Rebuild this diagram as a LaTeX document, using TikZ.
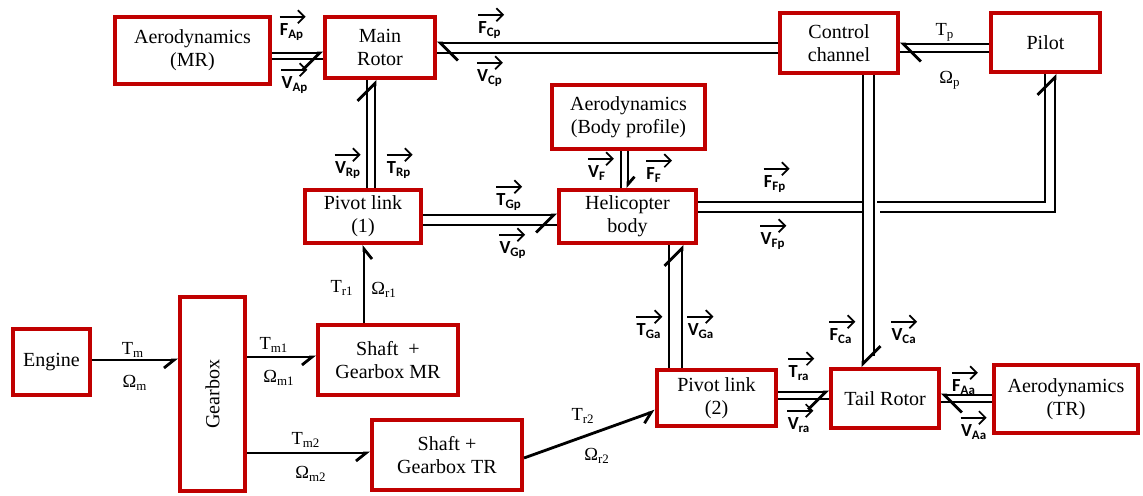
\documentclass[tikz,border=0pt]{standalone}
\usepackage{fontspec}
\setmainfont{Liberation Serif}
\newfontfamily\vecfont{Carlito}
\usetikzlibrary{arrows.meta}
\definecolor{boxred}{HTML}{C00000}

% vector label: name, position, letter, subscript
\newcommand{\vlab}[4]{%
  \node[vtext] (#1) at (#2) {#3\textsubscript{#4}};
  \draw[vec] ([yshift=1.3mm]#1.north west) -- ++(5.2mm,0);}

\tikzset{
  blk/.style={draw=boxred, line width=2.3pt, fill=white, align=center, inner sep=1pt,
    font=\fontsize{11.4}{13}\selectfont},
  link/.style={line width=1.6pt},
  dtip/.style={-{Straight Barb[harpoon, length=3.5mm, width=7mm]}},
  dtips/.style={-{Straight Barb[harpoon, swap, length=3.5mm, width=7mm]}},
  btip/.style={-{Straight Barb[harpoon, length=1.5mm, width=2.6mm]}},
  stips/.style={-{Straight Barb[harpoon, swap, length=2mm, width=3.2mm]}},
  vtext/.style={font=\vecfont\fontsize{10.5}{12}\selectfont\bfseries, inner sep=0pt},
  vec/.style={line width=1pt, -{Straight Barb[length=1.3mm, width=2.6mm]}},
  lab/.style={font=\fontsize{10.5}{12}\selectfont, inner sep=0pt}
}

\begin{document}
\begin{tikzpicture}[x=0.2mm, y=-0.2mm]
  \useasboundingbox (0,0) rectangle (1143,496);

  % Blocks
  \node[blk, minimum width=31mm, minimum height=13.4mm] (aeroMR) at (192.5,50.5) {Aerodynamics\\(MR)};
  \node[blk, minimum width=22mm, minimum height=12.2mm] (mainRotor) at (380,47.5) {Main\\Rotor};
  \node[blk, minimum width=23.6mm, minimum height=12mm] (control) at (839,43) {Control\\channel};
  \node[blk, minimum width=21.8mm, minimum height=11.8mm] (pilot) at (1045.5,42.5) {Pilot};
  \node[blk, minimum width=30.6mm, minimum height=12.8mm] (aeroBody) at (628.5,117) {Aerodynamics\\(Body profile)};
  \node[blk, minimum width=23.2mm, minimum height=10.6mm] (pivot1) at (363,216.5) {Pivot link\\(1)};
  \node[blk, minimum width=27.4mm, minimum height=10.6mm] (heli) at (627.5,216.5) {Helicopter\\body};
  \node[blk, minimum width=15.4mm, minimum height=13.2mm] (engine) at (51.5,362) {Engine};
  \node[blk, minimum width=13mm, minimum height=38.8mm] (gearbox) at (212.5,394) {\rotatebox{90}{Gearbox}};
  \node[blk, minimum width=28mm, minimum height=14mm] (shaftMR) at (388,360) {Shaft~~+\\Gearbox MR};
  \node[blk, minimum width=30mm, minimum height=14mm] (shaftTR) at (447,455) {Shaft +\\Gearbox TR};
  \node[blk, minimum width=23.8mm, minimum height=11.2mm] (pivot2) at (716.5,398) {Pivot link\\(2)};
  \node[blk, minimum width=21.6mm, minimum height=11.8mm] (tail) at (885,398.5) {Tail Rotor};
  \node[blk, minimum width=28.8mm, minimum height=13.6mm] (aeroTR) at (1066,399) {Aerodynamics\\(TR)};

  % Aerodynamics (MR) -> Main Rotor
  \draw[link, dtips] (aeroMR.east |- 0,53) -- (mainRotor.west |- 0,53);
  \draw[link] (aeroMR.east |- 0,59) -- (mainRotor.west |- 0,59);
  % Control channel -> Main Rotor
  \draw[link, dtip] (control.west |- 0,43) -- (mainRotor.east |- 0,43);
  \draw[link] (control.west |- 0,53) -- (mainRotor.east |- 0,53);
  % Pilot -> Control channel
  \draw[link, dtip] (pilot.west |- 0,44) -- (control.east |- 0,44);
  \draw[link] (pilot.west |- 0,52) -- (control.east |- 0,52);
  % Pivot link (1) -> Main Rotor
  \draw[link, dtip] (pivot1.north -| 375,0) -- (mainRotor.south -| 375,0);
  \draw[link] (pivot1.north -| 367,0) -- (mainRotor.south -| 367,0);
  % Pivot link (1) -> Helicopter body
  \draw[link, dtips] (pivot1.east |- 0,215) -- (heli.west |- 0,215);
  \draw[link] (pivot1.east |- 0,225) -- (heli.west |- 0,225);
  % Aerodynamics (body profile) -> Helicopter body
  \draw[link, btip] (aeroBody.south -| 628,0) -- (heli.north -| 628,0);
  \draw[link] (aeroBody.south -| 621,0) -- (heli.north -| 621,0);
  % Helicopter body -> Pilot (broken at the control lines)
  \draw[link] (heli.east |- 0,202) -- (863,202);
  \draw[link] (877,202) -- (1045,202) -- (pilot.south -| 1045,0);
  \draw[link] (heli.east |- 0,212) -- (863,212);
  \draw[link, dtip] (880,212) -- (1055,212) -- (pilot.south -| 1055,0);
  % Control channel -> Tail Rotor
  \draw[link, dtip] (control.south -| 863,0) -- (tail.north -| 863,0);
  \draw[link] (control.south -| 874,0) -- (874,356);
  % Pivot link (2) -> Helicopter body
  \draw[link, dtip] (pivot2.north -| 682,0) -- (heli.south -| 682,0);
  \draw[link] (pivot2.north -| 669,0) -- (heli.south -| 669,0);
  % Pivot link (2) -> Tail Rotor
  \draw[link, dtips] (pivot2.east |- 0,392) -- (tail.west |- 0,392);
  \draw[link] (pivot2.east |- 0,399) -- (tail.west |- 0,399);
  % Aerodynamics (TR) -> Tail Rotor
  \draw[link, dtip] (aeroTR.west |- 0,395) -- (tail.east |- 0,395);
  \draw[link] (aeroTR.west |- 0,402) -- (tail.east |- 0,402);

  % Drive train
  \draw[link, stips] (engine.east |- 0,360) -- (gearbox.west |- 0,360);
  \draw[link, stips] (gearbox.east |- 0,357) -- (shaftMR.west |- 0,357);
  \draw[link, stips] (gearbox.east |- 0,453) -- (shaftTR.west |- 0,453);
  \draw[link, stips] (shaftMR.north -| 364,0) -- (pivot1.south -| 364,0);
  \draw[link, stips] (shaftTR.east |- 0,458) -- (pivot2.west |- 0,411);

  % Torques and speeds
  \node[lab] (tm) at (133,350) {T\textsubscript{m}};
  \node[lab] (om) at (135,383) {Ω\textsubscript{m}};
  \node[lab] (tm1) at (274,345) {T\textsubscript{m1}};
  \node[lab] (om1) at (279,378) {Ω\textsubscript{m1}};
  \node[lab] (tm2) at (306,440) {T\textsubscript{m2}};
  \node[lab] (om2) at (311,474) {Ω\textsubscript{m2}};
  \node[lab] (tr1) at (342,288) {T\textsubscript{r1}};
  \node[lab] (or1) at (384,290) {Ω\textsubscript{r1}};
  \node[lab] (tr2) at (583,416) {T\textsubscript{r2}};
  \node[lab] (or2) at (597,456) {Ω\textsubscript{r2}};
  \node[lab] (tp) at (945,32) {T\textsubscript{p}};
  \node[lab] (op) at (950,80) {Ω\textsubscript{p}};

  % Force and velocity vectors
  \vlab{fap}{292,32}{F}{Ap}
  \vlab{vap}{295,85}{V}{Ap}
  \vlab{fcp}{490,30}{F}{Cp}
  \vlab{vcp}{490,78}{V}{Cp}
  \vlab{vrp}{348,170}{V}{Rp}
  \vlab{trp}{399,170}{T}{Rp}
  \vlab{tgp}{509,202}{T}{Gp}
  \vlab{vgp}{513,250}{V}{Gp}
  \vlab{vf}{597,173}{V}{F}
  \vlab{ff}{654,175}{F}{F}
  \vlab{ffp}{775,184}{F}{Fp}
  \vlab{vfp}{773,241}{V}{Fp}
  \vlab{tga}{649,331}{T}{Ga}
  \vlab{vga}{701,331}{V}{Ga}
  \vlab{fca}{841,336}{F}{Ca}
  \vlab{vca}{904,336}{V}{Ca}
  \vlab{tra}{799,373}{T}{ra}
  \vlab{vra}{799,425}{V}{ra}
  \vlab{faa}{964,387}{F}{Aa}
  \vlab{vaa}{974,432}{V}{Aa}
\end{tikzpicture}
\end{document}
